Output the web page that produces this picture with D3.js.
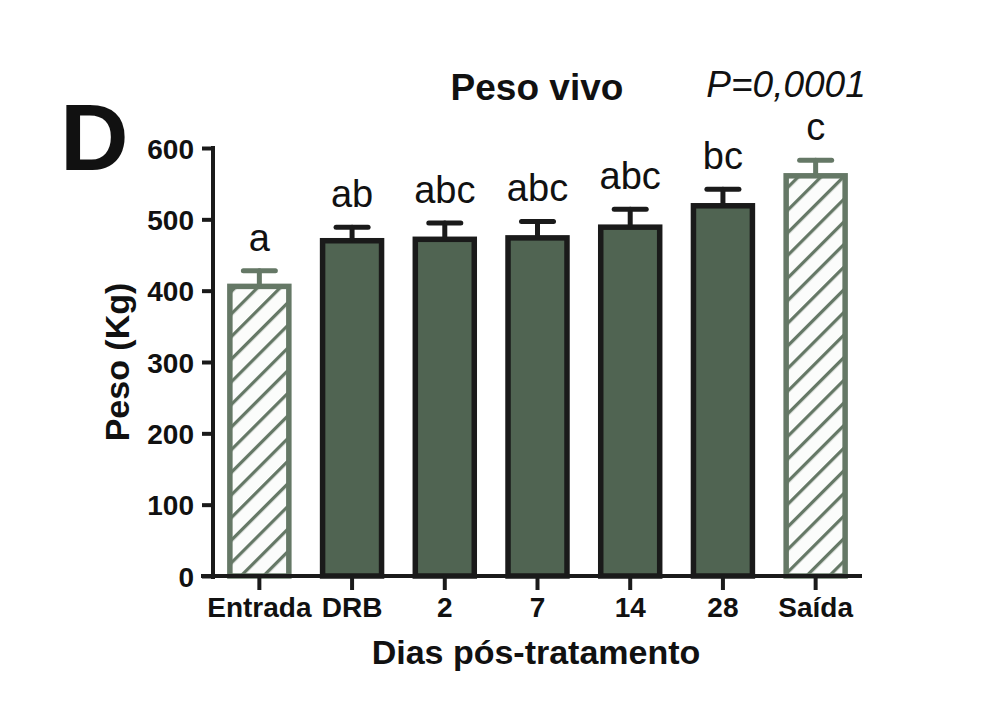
<!DOCTYPE html>
<html>
<head>
<meta charset="utf-8">
<script src="https://cdn.jsdelivr.net/npm/d3@7"></script>
<style>
  body { margin: 0; background: #fff; }
  text { font-family: "Liberation Sans", Arial, sans-serif; }
</style>
</head>
<body>
<div id="chart"></div>
<script>
// data
const categories = ["Entrada", "DRB", "2", "7", "14", "28", "Saída"];
const means = [406, 470, 472, 474, 489, 519, 561];
const sem = [22, 19, 23, 23, 25, 23, 22];
const letters = ["a", "ab", "abc", "abc", "abc", "bc", "c"];
const hatched = [true, false, false, false, false, false, true];
const yTicks = [0, 100, 200, 300, 400, 500, 600];

const width = 999, height = 725;
const darkFill = "#506452", darkStroke = "#1a1a1a";
const hatchColor = "#657866";

const svg = d3.select("#chart").append("svg")
    .attr("width", width)
    .attr("height", height);

// hatch pattern for the first/last bar
const defs = svg.append("defs");
const pat = defs.append("pattern")
    .attr("id", "hatch")
    .attr("patternUnits", "userSpaceOnUse")
    .attr("width", 16).attr("height", 16)
    .attr("patternTransform", "rotate(45)");
pat.append("rect").attr("width", 16).attr("height", 16).attr("fill", "#fbfcfb");
pat.append("line")
    .attr("x1", 0).attr("y1", 0).attr("x2", 0).attr("y2", 16)
    .attr("stroke", hatchColor).attr("stroke-width", 6.5);

// scales
const x = d3.scaleBand()
    .domain(categories)
    .range([213, 862])
    .paddingInner(0.364)
    .paddingOuter(0.182);

const y = d3.scaleLinear()
    .domain([0, 600])
    .range([576, 148]);

const data = categories.map((c, i) => ({cat: c, m: means[i], e: sem[i], l: letters[i], h: hatched[i]}));

// bars
svg.append("g").selectAll("rect")
    .data(data)
    .enter()
    .append("rect")
    .attr("x", d => x(d.cat))
    .attr("y", d => y(d.m))
    .attr("width", x.bandwidth())
    .attr("height", d => y(0) - y(d.m))
    .attr("fill", d => d.h ? "url(#hatch)" : darkFill)
    .attr("stroke", d => d.h ? hatchColor : darkStroke)
    .attr("stroke-width", 5.5);

// error bars (upper only)
const err = svg.append("g").selectAll("g")
    .data(data)
    .enter()
    .append("g")
    .attr("stroke", d => d.h ? hatchColor : darkStroke)
    .attr("stroke-width", 5)
    .attr("stroke-linecap", "round");
err.append("line")
    .attr("x1", d => x(d.cat) + x.bandwidth() / 2)
    .attr("x2", d => x(d.cat) + x.bandwidth() / 2)
    .attr("y1", d => y(d.m) - 2)
    .attr("y2", d => y(d.m + d.e));
err.append("line")
    .attr("x1", d => x(d.cat) + x.bandwidth() / 2 - 16)
    .attr("x2", d => x(d.cat) + x.bandwidth() / 2 + 16)
    .attr("y1", d => y(d.m + d.e))
    .attr("y2", d => y(d.m + d.e));

// significance letters
svg.append("g").selectAll("text")
    .data(data)
    .enter()
    .append("text")
    .attr("x", d => x(d.cat) + x.bandwidth() / 2)
    .attr("y", d => y(d.m + d.e) - 20)
    .attr("text-anchor", "middle")
    .attr("font-size", 38)
    .attr("fill", "#111")
    .text(d => d.l);

// axes
const yAxis = svg.append("g")
    .attr("transform", "translate(213,0)")
    .call(d3.axisLeft(y).tickValues(yTicks).tickSize(11).tickSizeOuter(0).tickPadding(8));
const xAxis = svg.append("g")
    .attr("transform", "translate(0,576)")
    .call(d3.axisBottom(x).tickSize(14).tickSizeOuter(0).tickPadding(7));

[yAxis, xAxis].forEach(a => {
    a.select(".domain").attr("stroke", darkStroke).attr("stroke-width", 4);
    a.selectAll(".tick line").attr("stroke", darkStroke).attr("stroke-width", 4);
    a.selectAll(".tick text")
        .attr("fill", "#111")
        .attr("font-size", 28)
        .attr("font-weight", "bold")
        .style("font-family", "'Liberation Sans', Arial, sans-serif");
});
yAxis.select(".domain").attr("d", "M0,579V146");
xAxis.select(".domain").attr("d", "M201,0H862");
yAxis.selectAll(".tick text").attr("dy", "0.36em");

// titles
svg.append("text")
    .attr("x", 537).attr("y", 100)
    .attr("text-anchor", "middle")
    .attr("font-size", 37).attr("font-weight", "bold")
    .attr("fill", "#111")
    .text("Peso vivo");

svg.append("text")
    .attr("x", 786).attr("y", 97)
    .attr("text-anchor", "middle")
    .attr("font-size", 37).attr("font-style", "italic")
    .attr("fill", "#111")
    .text("P=0,0001");

svg.append("text")
    .attr("x", 60).attr("y", 170)
    .attr("font-size", 95).attr("font-weight", "bold")
    .attr("fill", "#111")
    .text("D");

svg.append("text")
    .attr("transform", "translate(129,362) rotate(-90)")
    .attr("text-anchor", "middle")
    .attr("font-size", 34).attr("font-weight", "bold")
    .attr("fill", "#111")
    .text("Peso (Kg)");

svg.append("text")
    .attr("x", 536).attr("y", 664)
    .attr("text-anchor", "middle")
    .attr("font-size", 34).attr("font-weight", "bold")
    .attr("fill", "#111")
    .text("Dias pós-tratamento");
</script>
</body>
</html>
